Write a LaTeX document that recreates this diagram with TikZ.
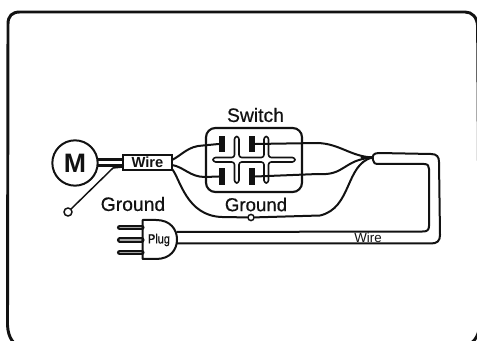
\documentclass[tikz,border=0pt]{standalone}
\usepackage{fontspec}
\setmainfont{Liberation Sans}
\newfontfamily\semibold[FakeBold=0.6]{Liberation Sans}
\definecolor{ink}{gray}{0.07}
\tikzset{
 ln/.style={line width=1.5pt,ink,line cap=round,line join=round},
 lbl/.style={inner sep=0pt,text=ink,font=\semibold\fontsize{14.5}{16}\selectfont},
 contact/.style={fill=ink,draw=none,minimum width=4.6pt,minimum height=12.2pt,inner sep=0pt},
 term/.style={circle,draw=ink,line width=1.1pt,fill=white,inner sep=0pt,minimum size=4.6pt}
}
\begin{document}
\begin{tikzpicture}[x=0.75pt,y=-0.75pt]
\useasboundingbox (0,0) rectangle (477,341);
% outer frame
\draw[ink,line width=2.2pt] (8,24) .. controls (8,16) and (12,12) .. (20,12) -- (465,12)
  .. controls (472,12) and (477,17) .. (477.6,26) -- (479.5,325) .. controls (479,337) and (473,345) .. (462,346)
  -- (22,346) .. controls (14,346) and (8,338) .. (7.5,325) -- cycle;
% motor
\node[circle,draw=ink,line width=1.5pt,minimum size=34pt,inner sep=0pt,text=ink,font=\bfseries\fontsize{20}{22}\selectfont] (M) at (75,163) {M};
% wire sleeve
\node[draw=ink,line width=1.5pt,minimum width=36.5pt,minimum height=10.8pt,inner sep=0pt,text=ink,font=\bfseries\fontsize{11}{12}\selectfont] (W) at (147.5,162.5) {Wire};
\coordinate (m1) at (98,159.5);
\coordinate (m2) at (98,165.5);
\coordinate (w1) at (123,159.5);
\coordinate (w2) at (123,165.5);
\draw[ln,line width=1.7pt] (m1) -- (w1);
\draw[ln,line width=1.7pt] (m2) -- (w2);
\coordinate (g0) at (123,167);
\node[term,minimum size=6pt] (g) at (68,212) {};
\draw[ln,line width=1.1pt] (g0) -- (113,168) -- (g);
% labels
\node[lbl] (ground1) at (133,204) {Ground};
\node[lbl,font=\semibold\fontsize{14}{16}\selectfont] (ground2) at (256,204.5) {Ground};
\node[lbl] (switch) at (255.5,115) {Switch};
% switch
\node[draw=ink,line width=1.6pt,rounded corners=7pt,minimum width=72pt,minimum height=48pt,inner sep=0pt] (S) at (254,160) {};
\draw[ln,line width=1.2pt,rounded corners=2pt] (213,157.5) -- (234.5,157.5) -- (234.5,136.5) -- (239,136.5) -- (239,157.5) -- (264,157.5) -- (264,136.5) -- (268.5,136.5) -- (268.5,157.5) -- (295,157.5) -- (295,162) -- (268.5,162) -- (268.5,183) -- (264,183) -- (264,162) -- (239,162) -- (239,183) -- (234.5,183) -- (234.5,162) -- (213,162) -- cycle;
\node[contact] (c1) at (222,144) {};
\node[contact] (c2) at (252,144) {};
\node[contact] (c3) at (222,176.5) {};
\node[contact] (c4) at (252,176.5) {};
% wires
\coordinate (wr1) at (172,160);
\coordinate (wr2) at (172,165);
\coordinate (wr3) at (172,169);
\coordinate (J) at (372,157.5);
\draw[ln] (wr1) .. controls (182,155) and (188,146) .. (203,145.5) -- (c1.west);
\draw[ln] (wr2) .. controls (184,167) and (190,177) .. (205,177) -- (c3.west);
\draw[ln] (c2.east) -- (318,143) .. controls (340,144) and (350,156) .. (J);
\draw[ln] (c4.east) -- (318,174) .. controls (345,176) and (343,160) .. (J);
\node[term] (g2) at (251,217.5) {};
\draw[ln] (wr3) .. controls (180,178) and (186,216) .. (222,217) -- (g2);
\draw[ln] (g2) -- (320,215.5) .. controls (352,208) and (345,165) .. (J);
% cable
\draw[ln,line width=2.2pt] (362,157.5) -- (J);
\draw[ln] (379,153) .. controls (373,153) and (372,156) .. (373,160) .. controls (373,163) and (375,164) .. (379,164);
\draw[ln] (379,153) -- (431,154) .. controls (437,154) and (439,157) .. (439,162) -- (440,235) .. controls (440,241) and (437,243.5) .. (431,243.5) -- (177,243.5);
\draw[ln] (379,164) -- (424,164) .. controls (428,164) and (429,166) .. (429,169) -- (429,226) .. controls (429,230) and (427,231.5) .. (423,231.5) -- (177,232);
% plug
\draw[ln,fill=white] (142.5,220) -- (142.5,259) -- (156,259) .. controls (170,259) and (177,250) .. (177,239.5) .. controls (177,229) and (170,220) .. (156,220) -- cycle;
\node[font=\semibold\fontsize{10}{11}\selectfont,inner sep=0pt,xscale=.82,text=ink] (plug) at (159,240) {Plug};
\foreach \y in {227.5,240,252.5}{
 \draw[line width=3.8pt,ink,line cap=round] (119.5,\y) -- (142,\y);
 \draw[line width=1pt,black!35,line cap=round] (120,\y) -- (141,\y);
}
\node[inner sep=0pt,text=ink,font=\fontsize{10}{11}\selectfont] (wl) at (368,237.5) {Wire};
\end{tikzpicture}
\end{document}
